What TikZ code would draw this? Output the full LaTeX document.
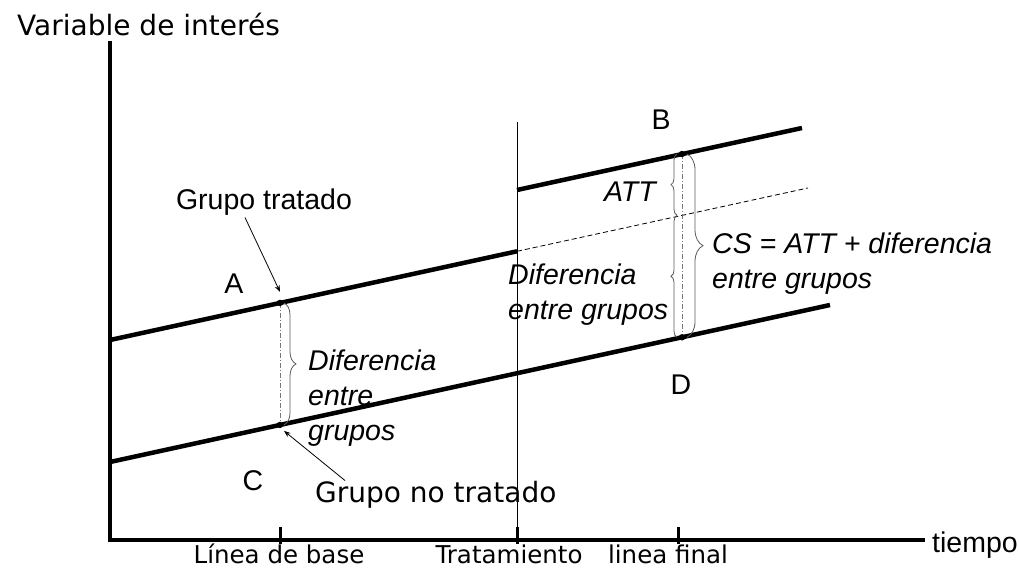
\documentclass[tikz,border=0pt]{standalone}
\usepackage{fontspec}
\setmainfont{Liberation Sans}
\newfontfamily\dejavu{DejaVu Sans}
\usepackage{tikz}
\usetikzlibrary{
    positioning,
    arrows.meta,
    calc,
    decorations.pathreplacing
}
\definecolor{guideGray}{RGB}{120, 120, 120}
\definecolor{braceGray}{RGB}{90, 90, 90}

\tikzset{
    txt/.style={font=\fontsize{28.5}{34}\selectfont, inner sep=0pt},
    txtit/.style={font=\fontsize{28.5}{35}\selectfont\itshape, inner sep=0pt, align=left},
    dv/.style={font=\fontsize{28}{34}\selectfont\dejavu, inner sep=0pt},
    axlbl/.style={font=\fontsize{24.5}{30}\selectfont\dejavu, inner sep=0pt, anchor=base},
    serie/.style={line width=4.5pt},
    guia/.style={guideGray, line width=0.7pt, dash pattern=on 5pt off 2pt on 1pt off 2pt},
    llave/.style={decorate, decoration={brace, amplitude=#1}, braceGray, line width=0.8pt},
    llave/.default=10pt,
    punto/.style={fill=black}
}

\begin{document}
\begin{tikzpicture}[x=1pt, y=-1pt, >=Stealth]
    \useasboundingbox (0,0) rectangle (1019,569);

    % ejes
    \coordinate (O) at (110,540);
    \coordinate (Ytop) at (110,41);
    \coordinate (Xend) at (925,540);
    \draw[line width=4pt] (Ytop) -- ([yshift=-2pt]O);
    \draw[line width=4pt] ([xshift=-2pt]O) -- (Xend);
    \node[dv, anchor=west] (yLabel) at (17,25) {Variable de interés};
    \node[txt, anchor=west] (xLabel) at (932,545) {tiempo};

    % marcas del eje temporal
    \foreach \x/\name in {280/Base, 517/Trat, 678/Final} {
        \coordinate (tick\name) at (\x,540);
        \draw[line width=3pt] ([yshift=13pt]tick\name) -- ([yshift=-4pt]tick\name);
    }
    \node[axlbl] (lblBase) at (279,563) {Línea de base};
    \node[axlbl] (lblTrat) at (509,563) {Tratamiento};
    \node[axlbl] (lblFinal) at (668,563) {linea final};

    % linea del tratamiento
    \draw[line width=1pt] (517,122) -- (tickTrat);

    % grupo tratado antes del tratamiento
    \coordinate (T0) at (110,340);
    \coordinate (A) at (280,302.9);
    \coordinate (T1) at (517,251.3);
    \coordinate (Tc) at (682,215.3);
    \coordinate (T2) at (808,188);
    \draw[serie] (T0) -- (T1);
    \draw[dashed, line width=0.8pt, dash pattern=on 5pt off 3pt] (T1) -- (T2);

    % grupo tratado despues del tratamiento
    \coordinate (P0) at (517,190);
    \coordinate (B) at (682,154);
    \coordinate (P1) at (802,128);
    \draw[serie] (P0) -- (P1);

    % grupo no tratado
    \coordinate (C0) at (110,462);
    \coordinate (C) at (280,424.9);
    \coordinate (D) at (682,337.3);
    \coordinate (C1) at (830,305);
    \draw[serie] (C0) -- (C1);

    % guias verticales
    \draw[guia] (A) -- (C);
    \draw[guia] (B) -- (D);
    \foreach \p in {A, B, C, D}
        \fill[punto] (\p) circle (3.2pt);

    % letras
    \node[txt] (lblA) at (234,284) {A};
    \node[txt] (lblB) at (661,120) {B};
    \node[txt] (lblC) at (253,481) {C};
    \node[txt] (lblD) at (681,385) {D};

    % llaves
    \draw[llave=12pt] ([xshift=4pt]A) -- ([xshift=4pt]C);
    \draw[llave=16pt] ([xshift=5pt]B) -- ([xshift=5pt]D);
    \draw[llave=6pt] ([xshift=-5pt]Tc) -- ([xshift=-5pt]B);
    \draw[llave=6pt] ([xshift=-5pt]D) -- ([xshift=-5pt]Tc);

    \node[txtit, anchor=west] (difBase) at (308,398) {Diferencia\\entre\\grupos};
    \node[txtit, anchor=east] (att) at (656,192) {ATT};
    \node[txtit, anchor=west] (difFinal) at (508,295) {Diferencia\\entre grupos};
    \node[txtit, anchor=west] (cs) at (712,264) {CS = ATT + diferencia\\entre grupos};

    % flechas de los grupos
    \node[txt] (gTrat) at (264,202) {Grupo tratado};
    \node[dv, anchor=base west] (gNoTrat) at (315,502) {Grupo no tratado};
    \draw[->, line width=0.8pt] ([xshift=-19pt, yshift=-2pt]gTrat.south) -- ([yshift=11pt]A);
    \draw[->, line width=0.8pt] ([xshift=30pt]gNoTrat.north west) -- ([xshift=4pt, yshift=-6pt]C);
\end{tikzpicture}
\end{document}
